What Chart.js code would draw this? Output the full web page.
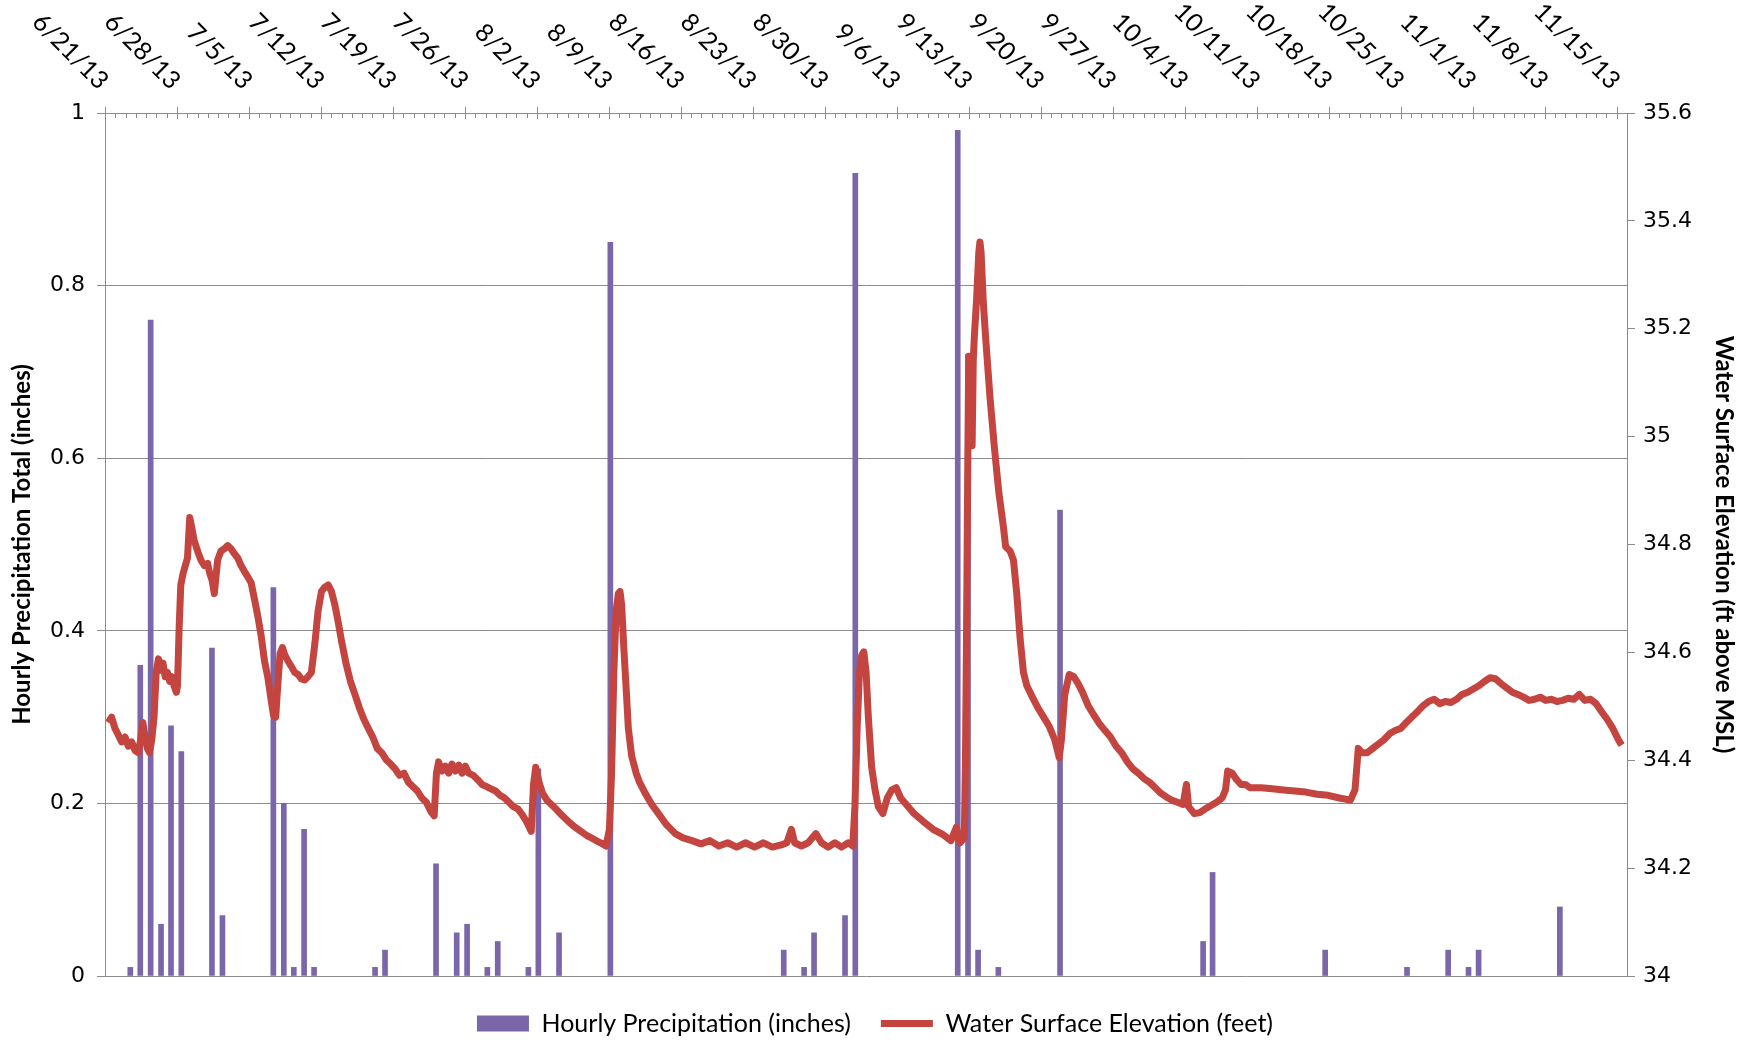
<!DOCTYPE html>
<html>
<head>
<meta charset="utf-8">
<script src="https://cdn.jsdelivr.net/npm/chart.js@4.4.1/dist/chart.umd.min.js"></script>
<style>
  html, body { margin:0; padding:0; background:#fff; overflow:hidden; }
</style>
</head>
<body>
<canvas id="chart" width="1750" height="1040"></canvas>
<script>
// data ----------------------------------------------------------
// x axis is "days since 6/21/13", runs to 11/16/13
const dayCount = 148;
const weekLabels = ["6/21/13","6/28/13","7/5/13","7/12/13","7/19/13","7/26/13","8/2/13","8/9/13",
  "8/16/13","8/23/13","8/30/13","9/6/13","9/13/13","9/20/13","9/27/13","10/4/13","10/11/13",
  "10/18/13","10/25/13","11/1/13","11/8/13","11/15/13"];

// hourly precipitation (inches), day offset incl. hour fraction
const precipDay = [2.46, 3.43, 4.44, 5.45, 6.42, 7.42, 10.40, 11.42, 16.37, 17.39,
  18.36, 19.36, 20.33, 26.26, 27.23, 32.19, 34.20, 35.21, 37.18, 38.19,
  41.17, 42.14, 44.15, 49.14, 66.00, 67.98, 68.95, 71.96, 72.96, 82.92,
  83.92, 84.90, 86.87, 92.87, 106.78, 107.70, 118.65, 126.61, 130.61, 132.59,
  133.57, 141.47];
const precipIn = [0.01, 0.36, 0.76, 0.06, 0.29, 0.26, 0.38, 0.07, 0.45, 0.20,
  0.01, 0.17, 0.01, 0.01, 0.03, 0.13, 0.05, 0.06, 0.01, 0.04,
  0.01, 0.24, 0.05, 0.85, 0.03, 0.01, 0.05, 0.07, 0.93, 0.98,
  0.72, 0.03, 0.01, 0.54, 0.04, 0.12, 0.03, 0.01, 0.03, 0.01,
  0.03, 0.08];

// water surface elevation (ft above MSL)
const elevDay = [
  0.32, 0.64, 0.97, 1.29, 1.62, 1.95, 2.27, 2.60, 2.92, 3.25,
  3.46, 3.68, 3.90, 4.12, 4.33, 4.55, 4.77, 4.98, 5.20, 5.42,
  5.64, 5.85, 6.07, 6.29, 6.50, 6.72, 6.94, 7.05, 7.21, 7.37,
  7.59, 7.81, 8.02, 8.24, 8.46, 8.67, 9.00, 9.33, 9.65, 9.98,
  10.19, 10.41, 10.63, 10.95, 11.28, 11.61, 11.93, 12.26, 12.58, 12.91,
  13.23, 13.56, 13.88, 14.21, 14.54, 14.86, 15.19, 15.51, 15.84, 16.16,
  16.38, 16.60, 16.81, 17.03, 17.25, 17.47, 17.79, 18.12, 18.44, 18.77,
  19.09, 19.42, 19.74, 20.07, 20.40, 20.72, 21.05, 21.37, 21.70, 22.02,
  22.35, 22.67, 23.00, 23.43, 23.87, 24.30, 24.74, 25.17, 25.61, 26.04,
  26.47, 26.91, 27.34, 27.78, 28.21, 28.64, 29.08, 29.51, 29.95, 30.38,
  30.81, 31.25, 31.68, 32.01, 32.23, 32.44, 32.77, 33.09, 33.42, 33.74,
  34.07, 34.40, 34.72, 35.05, 35.37, 35.81, 36.24, 36.68, 37.11, 37.54,
  37.98, 38.41, 38.85, 39.28, 39.71, 40.15, 40.58, 41.02, 41.45, 41.67,
  41.88, 42.21, 42.54, 42.97, 43.40, 43.84, 44.27, 44.71, 45.14, 45.57,
  46.01, 46.44, 46.88, 47.31, 47.75, 48.18, 48.72, 49.05, 49.26, 49.48,
  49.70, 49.92, 50.08, 50.24, 50.46, 50.68, 50.89, 51.22, 51.65, 51.98,
  52.52, 53.17, 53.82, 54.58, 55.45, 56.21, 57.08, 57.95, 58.82, 59.68,
  60.55, 61.42, 62.29, 63.16, 64.03, 64.89, 65.76, 66.30, 66.74, 67.06,
  67.72, 68.37, 69.13, 69.67, 70.32, 70.97, 71.62, 72.27, 72.71, 72.92,
  73.14, 73.36, 73.58, 73.79, 74.01, 74.23, 74.55, 74.88, 75.20, 75.64,
  76.07, 76.51, 76.94, 77.37, 77.92, 78.68, 79.54, 80.52, 81.50, 82.26,
  82.80, 83.13, 83.56, 83.67, 83.78, 83.89, 83.99, 84.10, 84.21, 84.32,
  84.43, 84.54, 84.75, 84.97, 85.08, 85.19, 85.41, 85.62, 86.06, 86.49,
  86.92, 87.36, 87.58, 88.01, 88.34, 88.66, 88.99, 89.31, 89.64, 90.18,
  90.72, 91.27, 91.81, 92.35, 92.79, 93.00, 93.33, 93.76, 94.20, 94.63,
  95.06, 95.61, 96.15, 96.69, 97.24, 97.78, 98.32, 98.86, 99.41, 99.95,
  100.49, 101.03, 101.58, 102.12, 102.66, 103.20, 103.75, 104.29, 104.83, 105.16,
  105.37, 105.92, 106.46, 107.00, 107.55, 108.09, 108.63, 108.96, 109.17, 109.61,
  110.04, 110.48, 110.91, 111.34, 112.43, 113.51, 114.60, 115.69, 116.77, 117.86,
  118.94, 120.03, 121.11, 121.55, 121.87, 122.20, 122.74, 123.28, 123.83, 124.37,
  124.91, 125.45, 126.00, 126.54, 127.08, 127.62, 128.17, 128.71, 129.25, 129.79,
  130.34, 130.88, 131.42, 131.96, 132.51, 133.05, 133.59, 134.14, 134.68, 135.22,
  135.76, 136.31, 136.85, 137.39, 137.93, 138.48, 139.02, 139.56, 140.10, 140.65,
  141.19, 141.73, 142.28, 142.82, 143.36, 143.90, 144.45, 144.99, 145.53, 146.07,
  146.62, 147.16, 147.48];
const elevFt = [
  34.470, 34.480, 34.459, 34.447, 34.434, 34.443, 34.426, 34.434, 34.418, 34.414,
  34.438, 34.470, 34.443, 34.422, 34.414, 34.438, 34.480, 34.563, 34.588, 34.567,
  34.580, 34.555, 34.563, 34.546, 34.555, 34.538, 34.526, 34.538, 34.646, 34.725,
  34.746, 34.761, 34.775, 34.850, 34.829, 34.808, 34.788, 34.771, 34.761, 34.765,
  34.746, 34.734, 34.709, 34.771, 34.788, 34.792, 34.798, 34.792, 34.783, 34.775,
  34.761, 34.750, 34.740, 34.729, 34.698, 34.667, 34.630, 34.584, 34.553, 34.511,
  34.484, 34.480, 34.542, 34.598, 34.609, 34.596, 34.584, 34.574, 34.563, 34.559,
  34.551, 34.549, 34.555, 34.563, 34.615, 34.677, 34.713, 34.721, 34.725, 34.713,
  34.688, 34.657, 34.621, 34.580, 34.546, 34.522, 34.497, 34.476, 34.459, 34.443,
  34.422, 34.414, 34.401, 34.393, 34.384, 34.372, 34.376, 34.359, 34.351, 34.343,
  34.330, 34.322, 34.305, 34.297, 34.376, 34.397, 34.380, 34.389, 34.376, 34.393,
  34.380, 34.391, 34.376, 34.389, 34.376, 34.372, 34.364, 34.355, 34.351, 34.347,
  34.343, 34.335, 34.330, 34.322, 34.314, 34.310, 34.299, 34.285, 34.268, 34.355,
  34.387, 34.359, 34.339, 34.326, 34.318, 34.310, 34.301, 34.293, 34.285, 34.278,
  34.272, 34.266, 34.260, 34.256, 34.251, 34.247, 34.241, 34.272, 34.376, 34.563,
  34.677, 34.709, 34.713, 34.688, 34.605, 34.532, 34.459, 34.407, 34.376, 34.359,
  34.339, 34.318, 34.301, 34.281, 34.264, 34.256, 34.251, 34.245, 34.251, 34.241,
  34.247, 34.239, 34.247, 34.239, 34.247, 34.239, 34.243, 34.247, 34.272, 34.247,
  34.241, 34.247, 34.264, 34.247, 34.239, 34.247, 34.239, 34.247, 34.241, 34.314,
  34.459, 34.563, 34.594, 34.601, 34.563, 34.480, 34.387, 34.345, 34.314, 34.301,
  34.330, 34.345, 34.349, 34.330, 34.318, 34.301, 34.287, 34.272, 34.262, 34.251,
  34.276, 34.247, 34.256, 34.397, 34.646, 34.937, 35.149, 34.989, 35.145, 34.983,
  35.141, 35.187, 35.253, 35.342, 35.361, 35.342, 35.249, 35.187, 35.072, 34.979,
  34.896, 34.833, 34.796, 34.788, 34.771, 34.709, 34.625, 34.563, 34.538, 34.517,
  34.497, 34.480, 34.463, 34.438, 34.405, 34.438, 34.522, 34.559, 34.555, 34.542,
  34.526, 34.501, 34.484, 34.468, 34.455, 34.443, 34.426, 34.414, 34.397, 34.384,
  34.376, 34.366, 34.359, 34.349, 34.339, 34.332, 34.326, 34.322, 34.318, 34.355,
  34.314, 34.301, 34.303, 34.310, 34.316, 34.322, 34.330, 34.345, 34.380, 34.376,
  34.364, 34.355, 34.355, 34.349, 34.349, 34.347, 34.345, 34.343, 34.341, 34.337,
  34.335, 34.330, 34.326, 34.345, 34.422, 34.414, 34.414, 34.422, 34.430, 34.438,
  34.449, 34.455, 34.459, 34.470, 34.480, 34.490, 34.501, 34.509, 34.513, 34.505,
  34.509, 34.507, 34.513, 34.522, 34.526, 34.532, 34.538, 34.546, 34.553, 34.551,
  34.542, 34.534, 34.526, 34.522, 34.517, 34.511, 34.513, 34.517, 34.511, 34.513,
  34.509, 34.511, 34.515, 34.513, 34.522, 34.511, 34.513, 34.505, 34.490, 34.476,
  34.459, 34.438, 34.428];

// look ----------------------------------------------------------
const purple   = "#7A66A8";
const red      = "#C4453F";
const gridGray = "#8C8C8C";
const tickFont = { family: "DejaVu Sans", size: 22 };
const textFam  = "Lato";

const fmt = v => String(Math.round(v * 10) / 10);

// top date axis: daily minor ticks, weekly major ticks, slanted labels
const dateAxis = {
  id: "dateAxis",
  afterDraw(chart) {
    const { ctx, chartArea, scales } = chart;
    const x = scales.x;
    const top = chartArea.top;
    ctx.save();
    ctx.strokeStyle = gridGray;
    ctx.lineWidth = 1;
    for (let d = 0; d <= dayCount; d++) {
      const px = Math.round(x.getPixelForValue(d)) + 0.5;
      ctx.beginPath();
      if (d % 7 === 0) { ctx.moveTo(px, top - 6); ctx.lineTo(px, top + 6); }
      else             { ctx.moveTo(px, top);     ctx.lineTo(px, top + 5); }
      ctx.stroke();
    }
    ctx.fillStyle = "#000";
    ctx.font = `25px ${textFam}`;
    ctx.textAlign = "right";
    ctx.textBaseline = "middle";
    weekLabels.forEach((lab, i) => {
      const px = x.getPixelForValue(i * 7);
      ctx.save();
      ctx.translate(px - 1, top - 28);
      ctx.rotate(Math.PI / 4);
      ctx.fillText(lab, 0, 0);
      ctx.restore();
    });
    ctx.restore();
  }
};

// ----------------------------------------------------------------
new Chart(document.getElementById("chart"), {
  data: {
    datasets: [
      {
        type: "line",
        label: "Water Surface Elevation (feet)",
        data: elevDay.map((d, i) => ({ x: d, y: elevFt[i] })),
        xAxisID: "x", yAxisID: "y2",
        borderColor: red, backgroundColor: red,
        borderWidth: 7, pointRadius: 0, pointStyle: "line",
        borderJoinStyle: "round", tension: 0, order: 0
      },
      {
        type: "bar",
        label: "Hourly Precipitation (inches)",
        data: precipDay.map((d, i) => ({ x: d, y: precipIn[i] })),
        xAxisID: "x", yAxisID: "y",
        backgroundColor: purple, borderWidth: 0,
        barThickness: 5, pointStyle: "rect", order: 1
      }
    ]
  },
  options: {
    responsive: false,
    animation: false,
    layout: { padding: { left: 0, right: 0, top: 0, bottom: -6 } },
    plugins: {
      tooltip: { enabled: false },
      legend: {
        position: "bottom",
        reverse: true,
        labels: {
          usePointStyle: true,
          pointStyleWidth: 52,
          boxHeight: 16,
          padding: 30,
          color: "#000",
          font: { family: textFam, size: 25 }
        }
      }
    },
    scales: {
      x: {
        type: "linear", position: "top", min: 0, max: dayCount, offset: false,
        ticks: { display: false, stepSize: 7 },
        grid: { display: false, offset: false },
        border: { display: true, color: gridGray },
        afterFit: s => { s.height = 113; }
      },
      xb: {
        type: "linear", position: "bottom", display: true, offset: false,
        ticks: { display: false }, grid: { display: false }, border: { display: false },
        afterFit: s => { s.height = 5; }
      },
      y: {
        position: "left", min: 0, max: 1,
        ticks: { stepSize: 0.2, callback: fmt, color: "#000", font: tickFont, padding: 12 },
        grid: { color: gridGray, tickLength: 8 },
        border: { color: gridGray },
        title: {
          display: true, text: "Hourly Precipitation Total (inches)", color: "#000",
          font: { family: textFam, size: 24, weight: "bold" }, padding: { top: 8, bottom: 0 }
        },
        afterFit: s => { s.width = 105; }
      },
      y2: {
        position: "right", min: 34, max: 35.6,
        ticks: { stepSize: 0.2, callback: fmt, color: "#000", font: tickFont, padding: 8 },
        grid: { drawOnChartArea: false, color: gridGray, tickLength: 8 },
        border: { color: gridGray },
        title: {
          display: true, text: "Water Surface Elevation (ft above MSL)", color: "#000",
          font: { family: textFam, size: 24, weight: "bold" }, padding: { top: 12, bottom: 0 }
        },
        afterFit: s => { s.width = 123; }
      }
    }
  },
  plugins: [dateAxis]
});
</script>
</body>
</html>
